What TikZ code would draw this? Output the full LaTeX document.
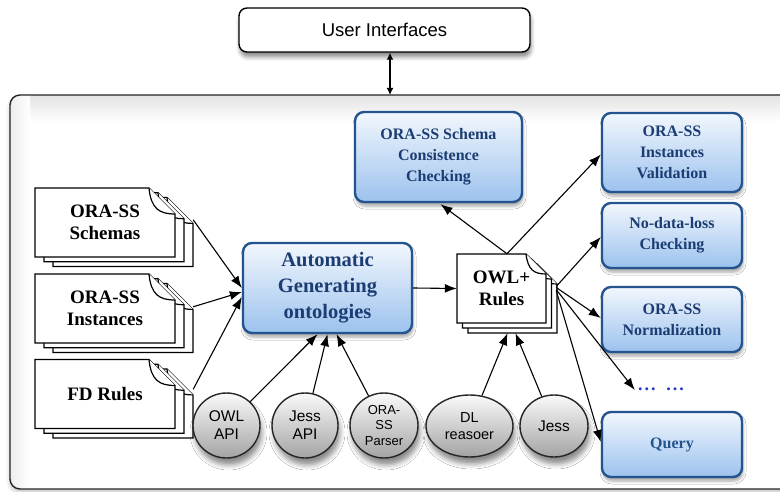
\documentclass[tikz,border=0pt]{standalone}
\usepackage{fontspec}
\setmainfont{Liberation Serif}
\setsansfont{Liberation Sans}
\usetikzlibrary{arrows.meta,shapes.geometric,shadows.blur,calc}

\definecolor{boxedge}{HTML}{23548F}
\definecolor{boxtext}{HTML}{1C3D73}
\definecolor{boxtop}{HTML}{F2F7FD}
\definecolor{boxmid}{HTML}{CFE1F7}
\definecolor{boxbot}{HTML}{9CC2EE}
\definecolor{dotblue}{HTML}{2236C8}

% one sheet of paper with a folded top-right corner
\newcommand\docsheet[5]{%
  \filldraw[sheet] (#1,#2) -- ({#3-#5},#2) -- (#3,{#2+#5}) -- (#3,#4) -- (#1,#4) -- cycle;
  \draw[sheet] ({#3-#5},#2) .. controls ({#3-#5+2},{#2+0.8*#5}) and ({#3-0.6*#5},{#2+#5}) .. (#3,{#2+#5});
}
% a stack of three sheets: name, cx, cy, width, height, dx, dy, fold, text
\newcommand\docstack[9]{%
  \pgfmathsetmacro\dsxa{#2-#4/2}\pgfmathsetmacro\dsxb{#2+#4/2}%
  \pgfmathsetmacro\dsya{#3-#5/2}\pgfmathsetmacro\dsyb{#3+#5/2}%
  \foreach \k in {2,1,0}{%
    \begin{scope}[shift={(\k*#6,\k*#7)}]
      \docsheet{\dsxa}{\dsya}{\dsxb}{\dsyb}{#8}
    \end{scope}}%
  \node[doctext, minimum width=#4, minimum height=#5] (#1) at (#2,#3) {#9};
}

\begin{document}
\begin{tikzpicture}[x=1pt,y=-1pt,
  every node/.style={align=center, inner sep=0pt},
  sheet/.style={draw=black, fill=white, line width=1.2pt, line join=miter},
  doctext/.style={font=\fontsize{19}{22}\selectfont\bfseries},
  procbox/.style={draw=boxedge, line width=2.4pt, rounded corners=9pt,
    top color=boxtop, middle color=boxmid, bottom color=boxbot,
    text=boxtext, font=\fontsize{16}{21}\selectfont\bfseries,
    blur shadow={shadow xshift=1pt, shadow yshift=-4pt, shadow blur radius=3pt, shadow opacity=35}},
  toolnode/.style={ellipse, draw=black!85, line width=1.4pt,
    top color=black!2, bottom color=black!36,
    font=\sffamily\fontsize{15.5}{18}\selectfont,
    blur shadow={shadow xshift=2pt, shadow yshift=-7pt, shadow blur radius=5pt, shadow opacity=45}},
  uibox/.style={draw=black, line width=1.4pt, fill=white, rounded corners=8pt,
    font=\sffamily\fontsize{18.5}{20}\selectfont,
    blur shadow={shadow xshift=1pt, shadow yshift=-5pt, shadow blur radius=4pt, shadow opacity=45}},
  arr/.style={draw=black, line width=1.1pt, -{Latex[length=12pt,width=9pt]}},
  dblarr/.style={draw=black, line width=2.4pt, {Latex[length=7pt,width=7pt]}-{Latex[length=7pt,width=7pt]}}
]
\useasboundingbox (0,0) rectangle (780,492);

% system frame
\fill[white, rounded corners=10pt,
  blur shadow={shadow xshift=0pt, shadow yshift=-3pt, shadow blur radius=4pt, shadow opacity=25}]
  (10,95) rectangle (800,489);
\begin{scope}
  \clip[rounded corners=10pt] (10,95) rectangle (800,489);
  \shade[top color=black!11, bottom color=white] (10,95) rectangle (800,122);
  \shade[left color=black!7, right color=white] (10,95) rectangle (30,489);
\end{scope}
\draw[black!85, line width=1.4pt, rounded corners=10pt] (10,95) rectangle (800,489);
\coordinate (systop) at (390,95);

% user interfaces
\node[uibox, minimum width=291, minimum height=44] (ui) at (384.5,30) {User Interfaces};
\draw[dblarr] (ui.south -| systop) -- (systop);

% input documents
\docstack{schemas}{105}{222.5}{140}{69}{9}{4.7}{26}{ORA-SS\\Schemas}
\docstack{instances}{105}{308.5}{140}{69}{9}{4.7}{26}{ORA-SS\\Instances}
\docstack{fdrules}{105}{394}{140}{69}{9}{4.7}{26}{FD Rules}

% generator
\node[procbox, minimum width=169, minimum height=90,
  font=\fontsize{20.5}{26}\selectfont\bfseries] (auto) at (327.5,288)
  {Automatic\\Generating\\ontologies};

% generated ontology and rules
\docstack{owl}{501.5}{288.5}{89}{69}{5.5}{5}{20}{OWL+\\Rules}

% applications
\node[procbox, minimum width=167, minimum height=90] (check) at (438.5,157)
  {ORA-SS Schema\\Consistence\\Checking};
\node[procbox, minimum width=140, minimum height=79] (valid) at (672,152.5)
  {ORA-SS\\Instances\\Validation};
\node[procbox, minimum width=140, minimum height=65] (nodata) at (672,235.5)
  {No-data-loss\\Checking};
\node[procbox, minimum width=140, minimum height=65] (norm) at (672,319.5)
  {ORA-SS\\Normalization};
\node[procbox, minimum width=140, minimum height=65, text=boxedge] (query) at (672,444.5)
  {Query};
\node[text=dotblue, font=\fontsize{18}{18}\selectfont\bfseries] (dots) at (661,389)
  {.\kern2pt.\kern2pt.\kern11pt.\kern2pt.\kern2pt.};

% tools
\node[toolnode, minimum width=67, minimum height=65] (owlapi) at (226.5,425.5) {OWL\\API};
\node[toolnode, minimum width=66, minimum height=65] (jessapi) at (305,425.5) {Jess\\API};
\node[toolnode, minimum width=68, minimum height=65,
  font=\sffamily\fontsize{13}{15.5}\selectfont] (parser) at (384,425.5) {ORA-\\SS\\Parser};
\node[toolnode, minimum width=87, minimum height=62,
  font=\sffamily\fontsize{14.5}{17}\selectfont] (dl) at (469.5,426) {DL\\reasoer};
\node[toolnode, minimum width=68, minimum height=62] (jess) at (554,426) {Jess};

% inputs to the generator
\draw[arr] ([shift={(18,32)}]schemas.north east) -- (auto.west);
\draw[arr] ([shift={(18,33)}]instances.north east) -- ([shift={(0,4)}]auto.west);
\draw[arr] ([shift={(18,30)}]fdrules.north east) -- ([shift={(0,9)}]auto.west);
\draw[arr] (owlapi) -- ([shift={(-10,0)}]auto.south);
\draw[arr] (jessapi) -- ([shift={(0,0)}]auto.south);
\draw[arr] (parser) -- ([shift={(9,0)}]auto.south);

% generator output
\draw[arr] (auto.east) -- (owl.west);
\draw[arr] (dl) -- ([shift={(6,10)}]owl.south);
\draw[arr] (jess) -- ([shift={(14,10)}]owl.south);

% ontology to applications
\draw[arr] ([shift={(5.5,0)}]owl.north) -- ([shift={(2,1)}]check.south);
\draw[arr] ([shift={(5.5,0)}]owl.north) -- ([shift={(0,2)}]valid.west);
\draw[arr] ([shift={(10,-2)}]owl.east) -- ([shift={(0,1.5)}]nodata.west);
\draw[arr] ([shift={(10,-1)}]owl.east) -- ([shift={(0,-1.5)}]norm.west);
\draw[arr] ([shift={(10,1)}]owl.east) -- ([shift={(-3,1)}]dots.west);
\draw[arr] ([shift={(10,2)}]owl.east) -- ([shift={(0,-2.5)}]query.west);
\end{tikzpicture}
\end{document}
